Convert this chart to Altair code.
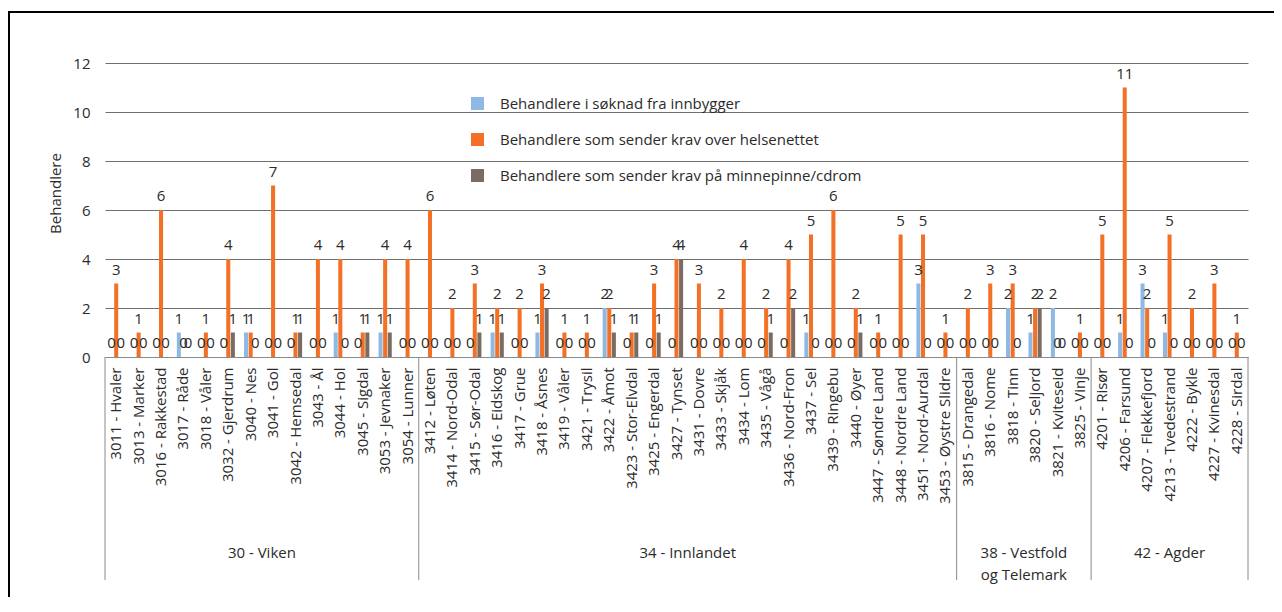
import altair as alt
import pandas as pd

# ---------------- data ----------------
viken = ["3011 - Hvaler", "3013 - Marker", "3016 - Rakkestad", "3017 - Råde", "3018 - Våler",
         "3032 - Gjerdrum", "3040 - Nes", "3041 - Gol", "3042 - Hemsedal", "3043 - Ål",
         "3044 - Hol", "3045 - Sigdal", "3053 - Jevnaker", "3054 - Lunner"]
innlandet = ["3412 - Løten", "3414 - Nord-Odal", "3415 - Sør-Odal", "3416 - Eidskog", "3417 - Grue",
             "3418 - Åsnes", "3419 - Våler", "3421 - Trysil", "3422 - Åmot", "3423 - Stor-Elvdal",
             "3425 - Engerdal", "3427 - Tynset", "3431 - Dovre", "3433 - Skjåk", "3434 - Lom",
             "3435 - Vågå", "3436 - Nord-Fron", "3437 - Sel", "3439 - Ringebu", "3440 - Øyer",
             "3447 - Søndre Land", "3448 - Nordre Land", "3451 - Nord-Aurdal", "3453 - Øystre Slidre"]
vestfold_telemark = ["3815 - Drangedal", "3816 - Nome", "3818 - Tinn", "3820 - Seljord",
                     "3821 - Kviteseid", "3825 - Vinje"]
agder = ["4201 - Risør", "4206 - Farsund", "4207 - Flekkefjord", "4213 - Tvedestrand",
         "4222 - Bykle", "4227 - Kvinesdal", "4228 - Sirdal"]

fylker = ["30 - Viken", "34 - Innlandet", "38 - Vestfold\nog Telemark", "42 - Agder"]
fylke_kommuner = [viken, innlandet, vestfold_telemark, agder]

serier = ["Behandlere i søknad fra innbygger",
          "Behandlere som sender krav over helsenettet",
          "Behandlere som sender krav på minnepinne/cdrom"]

innbygger = [0, 0, 0, 1, 0, 0, 1, 0, 0, 0, 1, 0, 1, 0,
             0, 0, 0, 1, 0, 1, 0, 0, 2, 0, 0, 0, 0, 0, 0, 0, 0, 1, 0, 0, 0, 0, 3, 0,
             0, 0, 2, 1, 2, 0,
             0, 1, 3, 1, 0, 0, 0]
helsenett = [3, 1, 6, 0, 1, 4, 1, 7, 1, 4, 4, 1, 4, 4,
             6, 2, 3, 2, 2, 3, 1, 1, 2, 1, 3, 4, 3, 2, 4, 2, 4, 5, 6, 2, 1, 5, 5, 1,
             2, 3, 3, 2, 0, 1,
             5, 11, 2, 5, 2, 3, 1]
minnepinne = [0, 0, 0, 0, 0, 1, 0, 0, 1, 0, 0, 1, 1, 0,
              0, 0, 1, 1, 0, 2, 0, 0, 1, 1, 1, 4, 0, 0, 0, 1, 2, 0, 0, 1, 0, 0, 0, 0,
              0, 0, 0, 2, 0, 0,
              0, 0, 0, 0, 0, 0, 0]

colors = ["#8DB9E4", "#F37126", "#7A6B63"]
FONT = "Open Sans"
TEXT = "#2b2b2b"

# ---------------- tables ----------------
kommuner = [k for g in fylke_kommuner for k in g]
rows = []
for serie, vals in zip(serier, [innbygger, helsenett, minnepinne]):
    for k, v in zip(kommuner, vals):
        rows.append({"kommune": k, "serie": serie, "verdi": v})
df = pd.DataFrame(rows)

# group separators: start of each group, plus end of the last one
sep_start = pd.DataFrame({"kommune": [g[0] for g in fylke_kommuner]})
sep_end = pd.DataFrame({"kommune": [fylke_kommuner[-1][-1]]})

# group labels: middle category of each group
lab_rows = []
for name, g in zip(fylker, fylke_kommuner):
    lab_rows.append({"fylke": name, "kommune": g[len(g) // 2], "even": len(g) % 2 == 0})
labs = pd.DataFrame(lab_rows)
labs_even = labs[labs["even"]]
labs_odd = labs[~labs["even"]]

W, H = 1143, 294

xscale = alt.Scale(domain=kommuner, paddingInner=0, paddingOuter=0)
xoff = alt.XOffset("serie:N", scale=alt.Scale(domain=serier, paddingInner=0.12, paddingOuter=1.0))

x_axis = alt.Axis(title=None, labelAngle=-90, labelFontSize=15, labelFont=FONT, labelColor=TEXT,
                  ticks=False, labelPadding=10, domainColor="#8a8a8a", domainWidth=1,
                  labelOverlap=False, labelLimit=300, grid=False)
y_axis = alt.Axis(title="Behandlere", values=[0, 2, 4, 6, 8, 10, 12], domain=False, ticks=False,
                  labelFontSize=15, labelFont=FONT, labelColor=TEXT, labelPadding=15,
                  gridColor="#6f6f6f", gridWidth=1, titleFont=FONT, titleFontSize=15,
                  titleFontWeight="normal", titleColor=TEXT, titleX=-50, titleY=130,
                  titleAngle=-90, titleAlign="center", titleBaseline="middle")

bars = alt.Chart(df).mark_bar().encode(
    x=alt.X("kommune:N", scale=xscale, axis=x_axis),
    xOffset=xoff,
    y=alt.Y("verdi:Q", scale=alt.Scale(domain=[0, 12], nice=False), axis=y_axis),
    color=alt.Color("serie:N", scale=alt.Scale(domain=serier, range=colors),
                    legend=alt.Legend(title=None, orient="none", legendX=365, legendY=33,
                                      symbolType="square", symbolSize=169, symbolStrokeWidth=0,
                                      labelFontSize=15, labelFont=FONT, labelColor=TEXT,
                                      labelOffset=15, rowPadding=20, padding=0, labelLimit=500)),
)

labels = alt.Chart(df).mark_text(fontSize=15, font=FONT, color=TEXT, baseline="alphabetic", dy=-9).encode(
    x=alt.X("kommune:N", scale=xscale),
    xOffset=xoff,
    y=alt.Y("verdi:Q"),
    text=alt.Text("verdi:Q"),
)

rule_start = alt.Chart(sep_start).mark_rule(color="#8a8a8a", strokeWidth=1).encode(
    x=alt.X("kommune:N", scale=xscale, bandPosition=0),
    y=alt.value(H), y2=alt.value(H + 223),
)
rule_end = alt.Chart(sep_end).mark_rule(color="#8a8a8a", strokeWidth=1).encode(
    x=alt.X("kommune:N", scale=xscale, bandPosition=1),
    y=alt.value(H), y2=alt.value(H + 223),
)

grp_even = alt.Chart(labs_even).mark_text(fontSize=15, font=FONT, color=TEXT, baseline="alphabetic",
                                          lineBreak="\n", lineHeight=22).encode(
    x=alt.X("kommune:N", scale=xscale, bandPosition=0),
    y=alt.value(H + 201),
    text="fylke:N",
)
grp_odd = alt.Chart(labs_odd).mark_text(fontSize=15, font=FONT, color=TEXT, baseline="alphabetic",
                                        lineBreak="\n", lineHeight=22).encode(
    x=alt.X("kommune:N", scale=xscale, bandPosition=0.5),
    y=alt.value(H + 201),
    text="fylke:N",
)

border = alt.Chart(pd.DataFrame({"a": [0]})).mark_rect(filled=False, stroke="black", strokeWidth=2).encode(
    x=alt.value(-96), x2=alt.value(W + 200), y=alt.value(-51), y2=alt.value(H + 400),
)

chart = alt.layer(bars, labels, rule_start, rule_end, grp_even, grp_odd, border).properties(
    width=W, height=H,
    background="white",
    autosize=alt.AutoSizeParams(type="none"),
    padding={"left": 97, "top": 55, "right": 26, "bottom": 240},
).configure_view(strokeWidth=0, stroke="transparent")

chart.save("out.html", embed_options={"renderer": "svg", "actions": False})
